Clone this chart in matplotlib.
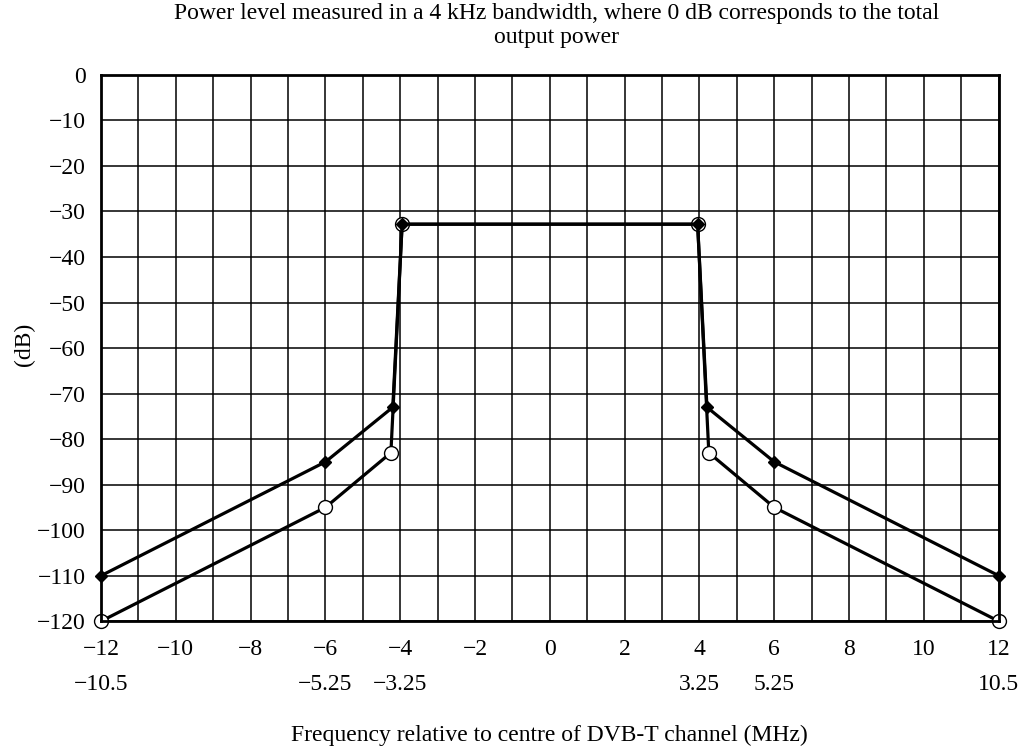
import matplotlib.pyplot as plt
import numpy as np

# spectrum mask breakpoints (MHz, dB)
freq_upper = [-12, -6, -4.2, -3.95, 3.95, 4.2, 6, 12]
level_upper = [-110, -85, -73, -32.8, -32.8, -73, -85, -110]

freq_lower = [-12, -6, -4.25, -3.95, 3.95, 4.25, 6, 12]
level_lower = [-120, -95, -83, -32.8, -32.8, -83, -95, -120]

x_ticks = [-12, -10, -8, -6, -4, -2, 0, 2, 4, 6, 8, 10, 12]
y_ticks = [0, -10, -20, -30, -40, -50, -60, -70, -80, -90, -100, -110, -120]

# second row of frequency labels (7 MHz channel)
x2_pos = [-12, -6, -4, 4, 6, 12]
x2_labels = ['\u221210.5', '\u22125.25', '\u22123.25', '3.25', '5.25', '10.5']

plt.rcParams['font.family'] = ['Liberation Serif', 'DejaVu Serif']
plt.rcParams['font.size'] = 17

fig = plt.figure(figsize=(10.33, 7.53), dpi=100)
ax = fig.add_axes([0.0978, 0.175, 0.869, 0.7256])

#grid every 1 MHz and 10 dB
ax.set_xticks(np.arange(-12, 13, 1), minor=True)
ax.grid(True, which='both', axis='x', color='black', lw=1.1)
ax.grid(True, which='major', axis='y', color='black', lw=1.1)
ax.set_axisbelow(True)

ax.plot(freq_lower, level_lower, color='black', lw=2.3, marker='o', ms=10,
        mfc='white', mec='black', mew=1.0, zorder=3, clip_on=False)
ax.plot(freq_upper, level_upper, color='black', lw=2.3, marker='D', ms=6.5,
        mfc='black', mec='black', zorder=4, clip_on=False)

ax.set_xlim(-12, 12)
ax.set_ylim(-120, 0)
ax.set_xticks(x_ticks)
ax.set_yticks(y_ticks)
ax.set_xticklabels([str(t).replace('-', '\u2212') for t in x_ticks])
ax.set_yticklabels([str(t).replace('-', '\u2212') for t in y_ticks])
ax.tick_params(which='both', length=0, pad=11)
ax.tick_params(axis='x', pad=13)

for s in ax.spines.values():
    s.set_linewidth(2)
    s.set_zorder(5)

for p, lab in zip(x2_pos, x2_labels):
    ax.text(p, -0.115, lab, transform=ax.get_xaxis_transform(),
            ha='center', va='center')

fig.text(0.024, 0.542, '(dB)', rotation=90, ha='center', va='center')
fig.text(0.532, 0.024, 'Frequency relative to centre of DVB-T channel (MHz)',
         ha='center', va='center')
fig.text(0.539, 0.966, 'Power level measured in a 4 kHz bandwidth, where 0 dB corresponds to the total\noutput power',
         ha='center', va='center', linespacing=1.15)

fig.savefig('out.png', dpi=100)
